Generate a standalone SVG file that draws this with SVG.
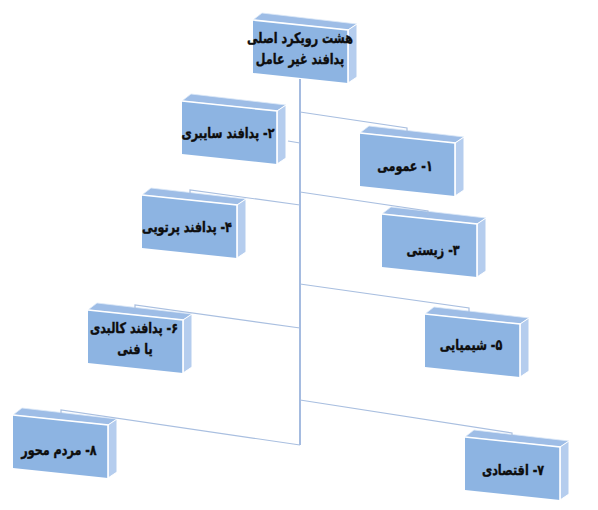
<svg xmlns="http://www.w3.org/2000/svg" xmlns:xlink="http://www.w3.org/1999/xlink" width="598" height="510" viewBox="0 0 598 510">
<style>
.top{fill:#9ebde6;stroke:#dce8f7;stroke-width:0.8}
.side{fill:#b5cdee;stroke:#ffffff;stroke-width:1}
.front{fill:#8db4e2}
.edge{fill:none;stroke:#ffffff;stroke-width:1.6}
.t{font-family:"DejaVu Sans",sans-serif;font-weight:bold;font-size:14.5px;fill:#0d0d0d;stroke:#0d0d0d;stroke-width:0.4;text-anchor:middle;direction:rtl}
.c{fill:none;stroke:#a9bfe0;stroke-width:1.2}
.trunk{fill:none;stroke:#8eaad8;stroke-width:1.6}
</style>
<defs>
<g id="box">
<polygon class="top" points="0,0 9,-7 104,4 95,10"/>
<polygon class="side" points="95,10 104,4 104,57 95,63"/>
<polygon class="front" points="0,0 95,10 95,63 0,53"/>
<polyline class="edge" points="0,0 95,10 95,63"/>
</g>
</defs>
<rect width="598" height="510" fill="#ffffff"/>
<g id="root" transform="translate(253,20)">
<use xlink:href="#box"/>
<text class="t" transform="translate(47,23) scale(0.77,1)" direction="rtl">هشت رویکرد اصلی</text>
<text class="t" transform="translate(47,44) scale(0.77,1)" direction="rtl">پدافند غیر عامل</text>
</g>
<g id="n2" transform="translate(182,101)">
<use xlink:href="#box"/>
<text class="t" transform="translate(46,37) scale(0.77,1)" direction="rtl">۲- پدافند سایبری</text>
</g>
<g id="n1" transform="translate(360,133)">
<use xlink:href="#box"/>
<text class="t" transform="translate(45,38) scale(0.77,1)" direction="rtl">۱- عمومی</text>
</g>
<g id="n4" transform="translate(142,195)">
<use xlink:href="#box"/>
<text class="t" transform="translate(45,37) scale(0.77,1)" direction="rtl">۴- پدافند پرتویی</text>
</g>
<g id="n3" transform="translate(382,214)">
<use xlink:href="#box"/>
<text class="t" transform="translate(51,41) scale(0.77,1)" direction="rtl">۳- زیستی</text>
</g>
<g id="n6" transform="translate(88,310)">
<use xlink:href="#box"/>
<text class="t" transform="translate(46,23) scale(0.77,1)" direction="rtl">۶- پدافند کالبدی</text>
<text class="t" transform="translate(47,44) scale(0.77,1)" direction="rtl">یا فنی</text>
</g>
<g id="n5" transform="translate(425,314)">
<use xlink:href="#box"/>
<text class="t" transform="translate(46,36) scale(0.77,1)" direction="rtl">۵- شیمیایی</text>
</g>
<g id="n8" transform="translate(13,415)">
<use xlink:href="#box"/>
<text class="t" transform="translate(46,40) scale(0.77,1)" direction="rtl">۸- مردم محور</text>
</g>
<g id="n7" transform="translate(465,437)">
<use xlink:href="#box"/>
<text class="t" transform="translate(48,38) scale(0.77,1)" direction="rtl">۷- اقتصادی</text>
</g>
<g id="connectors">
<path class="trunk" d="M300,79 V445"/>
<path class="c" d="M300,112 L407,128 v4"/>
<path class="c" d="M300,143 L288,141"/>
<path class="c" d="M300,192 L428,211 v4"/>
<path class="c" d="M300,205 L190,190 v4"/>
<path class="c" d="M300,284 L469,308 v4"/>
<path class="c" d="M300,328 L135,305 v4"/>
<path class="c" d="M300,400 L512,433 v4"/>
<path class="c" d="M300,445 L61,410 v4"/>
</g>
</svg>
